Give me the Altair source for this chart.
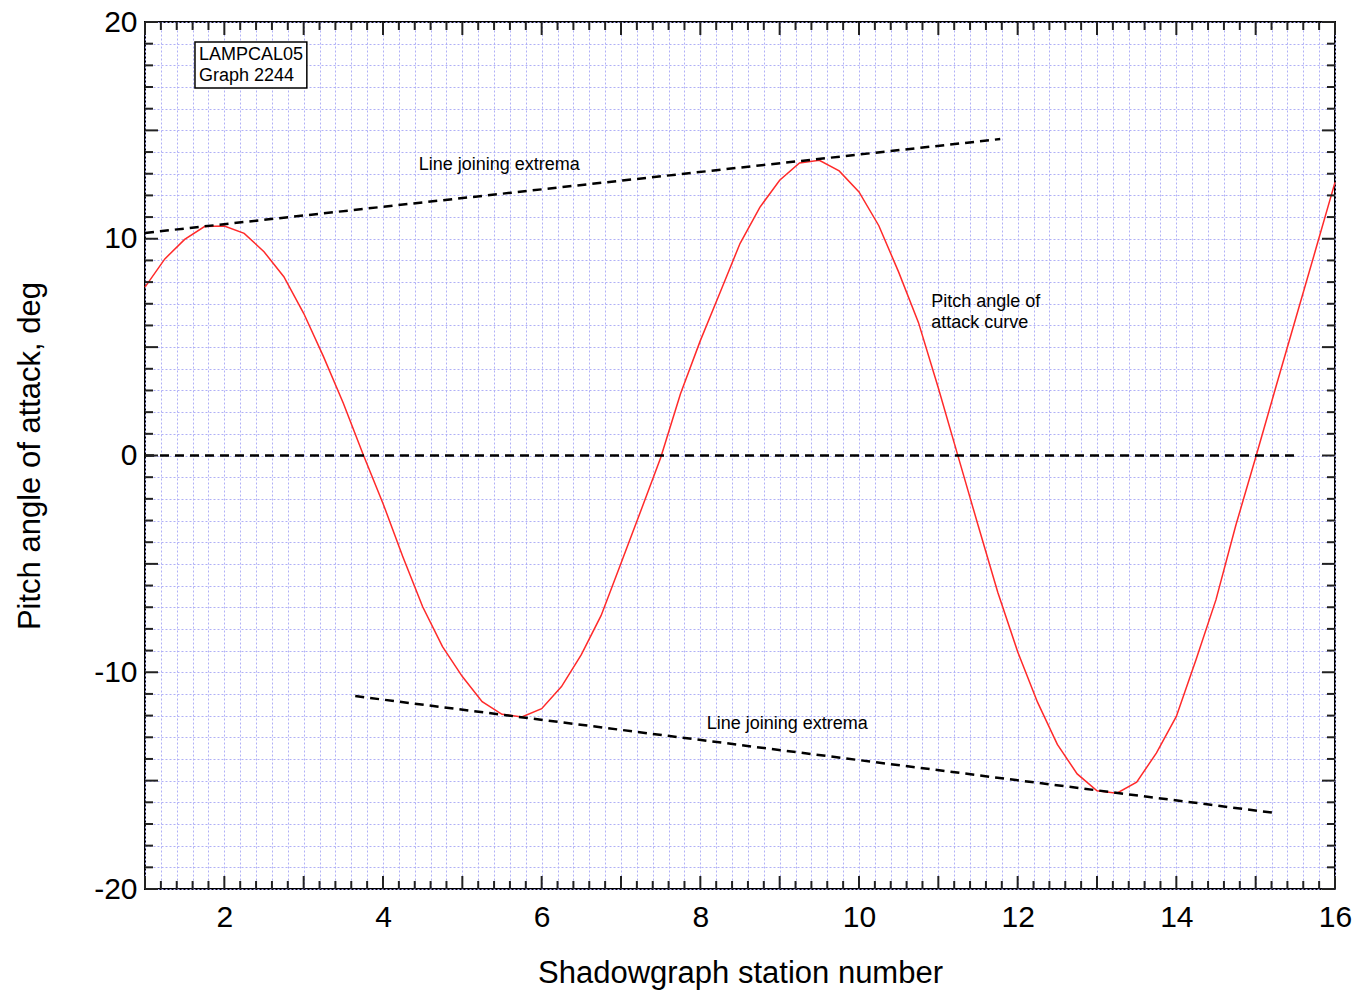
import altair as alt
import pandas as pd

# ---------------- data ----------------
station = [1.0, 1.25, 1.5, 1.75, 2.0, 2.25, 2.5, 2.75, 3.0, 3.25, 3.5, 3.75,
           4.0, 4.25, 4.5, 4.75, 5.0, 5.25, 5.5, 5.75, 6.0, 6.25, 6.5, 6.75,
           7.0, 7.25, 7.5, 7.75, 8.0, 8.25, 8.5, 8.75, 9.0, 9.25, 9.5, 9.75,
           10.0, 10.25, 10.5, 10.75, 11.0, 11.25, 11.5, 11.75, 12.0, 12.25,
           12.5, 12.75, 13.0, 13.25, 13.5, 13.75, 14.0, 14.25, 14.5, 14.75,
           15.0, 15.25, 15.5, 15.75, 16.0]
pitch = [7.77, 9.07, 9.97, 10.56, 10.59, 10.25, 9.40, 8.25, 6.56, 4.56, 2.41, 0.05,
         -2.21, -4.67, -6.98, -8.82, -10.20, -11.36, -11.94, -12.06, -11.68, -10.66, -9.19, -7.38,
         -4.97, -2.55, -0.10, 2.85, 5.30, 7.53, 9.78, 11.45, 12.70, 13.50, 13.62, 13.13,
         12.16, 10.60, 8.46, 6.13, 3.11, -0.05, -3.21, -6.32, -9.05, -11.38,
         -13.33, -14.69, -15.47, -15.58, -15.07, -13.72, -12.04, -9.40, -6.65, -3.22,
         -0.09, 3.10, 6.26, 9.42, 12.60]

upper_x = [1.0, 11.78]
upper_y = [10.27, 14.60]
lower_x = [3.65, 15.24]
lower_y = [-11.10, -16.49]
zero_x = [1.0, 15.5]
zero_y = [0.0, 0.0]

x_grid = [round(1 + 0.2 * i, 1) for i in range(76)]
y_grid = list(range(-20, 21))
x_major = list(range(1, 17))
x_minor = [v for v in x_grid if abs(v - round(v)) > 1e-9]
y_major = list(range(-20, 21, 5))
y_minor = [v for v in y_grid if v % 5 != 0]

notes_text = ["Line joining extrema", "Line joining extrema", "Pitch angle of", "attack curve"]
notes_x = [4.45, 8.08, 10.91, 10.91]
notes_y = [13.4, -12.39, 7.08, 6.11]

box_text = ["LAMPCAL05", "Graph 2244"]
box_text_x = [1.68, 1.68]
box_text_y = [18.48, 17.51]
box_x, box_x2, box_y, box_y2 = 1.63, 3.04, 16.95, 19.08

# ---------------- layout ----------------
W, H = 1190, 867
XMIN, XMAX, YMIN, YMAX = 1, 16, -20, 20
FONT = "Liberation Sans"
MAJ, MIN = 13, 8  # tick lengths in px
dx = (XMAX - XMIN) / W
dy = (YMAX - YMIN) / H
GRID_COLOR = "#b0b0f6"

xs = alt.Scale(domain=[XMIN, XMAX], nice=False, zero=False)
ys = alt.Scale(domain=[YMIN, YMAX], nice=False, zero=False)

x_axis = alt.Axis(
    values=x_grid, grid=True, gridColor=GRID_COLOR, gridDash=[2, 2], gridWidth=1,
    ticks=False, tickSize=0, domain=False, labelOverlap=False, labelFlush=False,
    labelExpr="datum.value % 2 === 0 ? '' + datum.value : ''",
    labelFont=FONT, labelFontSize=30, labelColor="black", labelPadding=28,
    labelBaseline="middle",
    title="Shadowgraph station number", titleFont=FONT, titleFontSize=31,
    titleFontWeight="normal", titleColor="black", titleX=W / 2, titleY=84,
    titleBaseline="middle", titleAnchor="middle")
y_axis = alt.Axis(
    values=y_grid, grid=True, gridColor=GRID_COLOR, gridDash=[2, 2], gridWidth=1,
    ticks=False, tickSize=0, domain=False, labelOverlap=False, labelFlush=False,
    labelExpr="datum.value % 10 === 0 ? '' + datum.value : ''",
    labelFont=FONT, labelFontSize=30, labelColor="black", labelPadding=8,
    title="Pitch angle of attack, deg", titleFont=FONT, titleFontSize=31,
    titleFontWeight="normal", titleColor="black", titleX=-115, titleY=H / 2,
    titleBaseline="middle", titleAngle=-90, titleAnchor="middle")


def X(f="x"):
    return alt.X(f + ":Q", scale=xs, axis=x_axis)


def Y(f="y"):
    return alt.Y(f + ":Q", scale=ys, axis=y_axis)


curve_df = pd.DataFrame({"x": station, "y": pitch})
base_curve = alt.Chart(curve_df).mark_line(color="#ff2a2a", strokeWidth=1.5).encode(
    x=X(), y=Y())


def dashed(xv, yv):
    df = pd.DataFrame({"x": xv, "y": yv})
    return alt.Chart(df).mark_line(color="black", strokeWidth=2.5, strokeDash=[9, 6]).encode(
        x=X(), y=Y())


# ticks pointing inward on all four sides
tick_rows = []
for v in x_major:
    tick_rows.append((v, v, YMIN, YMIN + MAJ * dy))
    tick_rows.append((v, v, YMAX, YMAX - MAJ * dy))
for v in x_minor:
    tick_rows.append((v, v, YMIN, YMIN + MIN * dy))
    tick_rows.append((v, v, YMAX, YMAX - MIN * dy))
for v in y_major:
    tick_rows.append((XMIN, XMIN + MAJ * dx, v, v))
    tick_rows.append((XMAX, XMAX - MAJ * dx, v, v))
for v in y_minor:
    tick_rows.append((XMIN, XMIN + MIN * dx, v, v))
    tick_rows.append((XMAX, XMAX - MIN * dx, v, v))
ticks_df = pd.DataFrame(tick_rows, columns=["x", "x2", "y", "y2"])
ticks = alt.Chart(ticks_df).mark_rule(color="#222222", strokeWidth=2).encode(
    x=X(), x2="x2:Q", y=Y(), y2="y2:Q")

notes_df = pd.DataFrame({"x": notes_x, "y": notes_y, "t": notes_text})
notes = alt.Chart(notes_df).mark_text(align="left", baseline="middle", font=FONT,
                                      fontSize=18, color="black").encode(
    x=X(), y=Y(), text="t:N")

box_df = pd.DataFrame({"x": [box_x], "x2": [box_x2], "y": [box_y], "y2": [box_y2]})
box = alt.Chart(box_df).mark_rect(fill="white", stroke="black", strokeWidth=1.5).encode(
    x=X(), x2="x2:Q", y=Y(), y2="y2:Q")
box_df2 = pd.DataFrame({"x": box_text_x, "y": box_text_y, "t": box_text})
box_txt = alt.Chart(box_df2).mark_text(align="left", baseline="middle", font=FONT,
                                       fontSize=18, color="black").encode(
    x=X(), y=Y(), text="t:N")

chart = alt.layer(
    base_curve,
    dashed(upper_x, upper_y),
    dashed(lower_x, lower_y),
    dashed(zero_x, zero_y),
    box, box_txt, notes, ticks,
).properties(
    width=W, height=H,
    background="white",
    autosize=alt.AutoSizeParams(type="none"),
    padding={"left": 145, "top": 22, "right": 22, "bottom": 105},
).configure_view(stroke="black", strokeWidth=2)

chart.save("out.html", embed_options={"renderer": "svg", "actions": False})
